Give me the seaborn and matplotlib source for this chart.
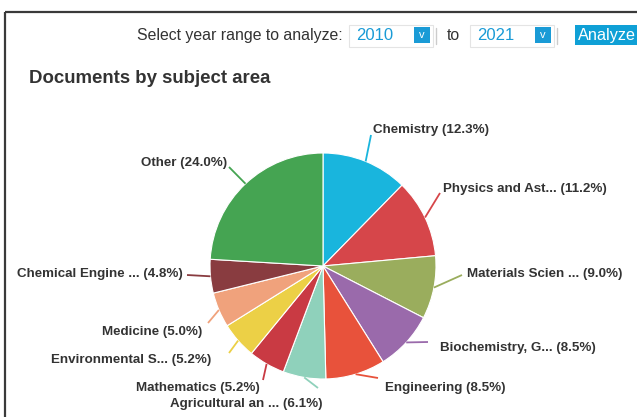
import numpy as np
import matplotlib.pyplot as plt
import seaborn as sns
from matplotlib.patches import Rectangle

# Data (clockwise from 12 o'clock)
subjects = ["Chemistry", "Physics and Ast...", "Materials Scien ...", "Biochemistry, G...",
            "Engineering", "Agricultural an ...", "Mathematics", "Environmental S...",
            "Medicine", "Chemical Engine ...", "Other"]
shares = [12.3, 11.2, 9.0, 8.5, 8.5, 6.1, 5.2, 5.2, 5.0, 4.8, 24.0]
colors = ["#19b5dd", "#d6464a", "#9aad5d", "#9a6aab", "#e8523b", "#8fd1bb",
          "#c93a43", "#ecd046", "#f0a27c", "#893c40", "#45a452"]
year_from = "2010"
year_to = "2021"

sns.set_theme(style="white")
plt.rcParams["font.family"] = ["Liberation Sans", "DejaVu Sans"]

W, H = 637, 417
fig = plt.figure(figsize=(W / 100, H / 100), dpi=100)
ax = fig.add_axes([0, 0, 1, 1])

def Y(y):
    # pixel row (from top) -> axis coordinate
    return H - y

cx, cy, R = 323, 266, 113
wedges, _ = ax.pie(shares, colors=sns.color_palette(colors), startangle=90, counterclock=False,
                   center=(cx, Y(cy)), radius=R,
                   wedgeprops=dict(edgecolor="white", linewidth=0.8))
ax.set_xlim(0, W)
ax.set_ylim(0, H)
ax.set_aspect("auto")
ax.axis("off")

# label anchors (layout, pixels from top-left) and alignment
label_pos = [(373, 128, "left"), (443, 187, "left"), (467, 273, "left"), (440, 347, "left"),
             (385, 386, "left"), (323, 403, "right"), (260, 386, "right"), (211, 359, "right"),
             (202, 330, "right"), (183, 273, "right"), (227, 161, "right")]
conn_end = [(371, 135), (440, 193), (462, 275), (428, 342), (378, 378), (318, 388),
            (263, 380), (229, 353), (208, 323), (187, 275), (229, 167)]

for w, name, val, col, (tx, ty, ha), (ex, ey) in zip(wedges, subjects, shares, colors, label_pos, conn_end):
    mid = np.deg2rad((w.theta1 + w.theta2) / 2)
    sx, sy = cx + R * np.cos(mid), Y(cy) + R * np.sin(mid)
    ax.plot([sx, ex], [sy, Y(ey)], color=col, lw=1.3, solid_capstyle="butt")
    ax.text(tx, Y(ty + 1.5), f"{name} ({val:.1f}%)", ha=ha, va="center", fontsize=9.6,
            fontweight="bold", color="#333333")

# title
ax.text(29, Y(78), "Documents by subject area", ha="left", va="center", fontsize=13.4,
        fontweight="bold", color="#333333")

# frame
ax.plot([5, W], [Y(12), Y(12)], color="#3a3a3a", lw=1.6, solid_capstyle="butt")
ax.plot([5, 5], [Y(12), 0], color="#3a3a3a", lw=1.6, solid_capstyle="butt")

# year selector row
ax.text(343, Y(35), "Select year range to analyze:", ha="right", va="center", fontsize=11.4,
        color="#333333")
blue = "#1a9bd6"
for x0, yr in [(349, year_from), (470, year_to)]:
    ax.add_patch(Rectangle((x0, Y(47)), 84, 22, facecolor="white", edgecolor="#e4e4e4", lw=0.8))
    ax.text(x0 + 7, Y(35), yr, ha="left", va="center", fontsize=12, color=blue)
    ax.add_patch(Rectangle((x0 + 65, Y(43)), 16, 16, facecolor=blue, edgecolor="none"))
    ax.text(x0 + 73, Y(35), "v", ha="center", va="center", fontsize=8, color="white")
    ax.plot([x0 + 87, x0 + 87], [Y(28), Y(44)], color="#cccccc", lw=1)
ax.text(453, Y(35), "to", ha="center", va="center", fontsize=11.4, color="#333333")
ax.add_patch(Rectangle((575, Y(45)), 62, 20, facecolor="#0fa0d6", edgecolor="none"))
ax.text(578, Y(35), "Analyze", ha="left", va="center", fontsize=11.7, color="white")

fig.savefig("out.png", dpi=100)
